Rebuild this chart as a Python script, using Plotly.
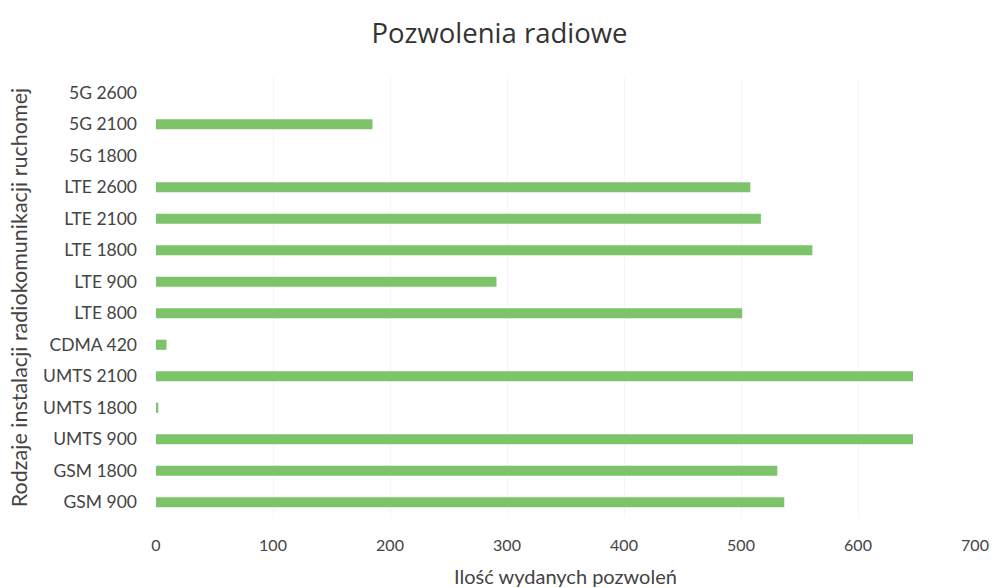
import plotly.graph_objects as go

categories = ["GSM 900", "GSM 1800", "UMTS 900", "UMTS 1800", "UMTS 2100",
              "CDMA 420", "LTE 800", "LTE 900", "LTE 1800", "LTE 2100",
              "LTE 2600", "5G 1800", "5G 2100", "5G 2600"]
permits = [537, 531, 647, 2, 647, 9, 501, 291, 561, 517, 508, 0, 185, 0]
x_ticks = [0, 100, 200, 300, 400, 500, 600, 700]

font_family = "Lato, Carlito, Open Sans, sans-serif"
text_color = "#444444"

fig = go.Figure(
    go.Bar(
        x=permits,
        y=categories,
        orientation="h",
        marker=dict(color="#7DC36A", line=dict(width=0)),
        hoverinfo="x+y",
    )
)

fig.update_layout(
    width=999,
    height=588,
    paper_bgcolor="white",
    plot_bgcolor="white",
    margin=dict(l=156, r=24, t=77, b=70),
    bargap=0.68,
    showlegend=False,
    title=dict(
        text="Pozwolenia radiowe",
        x=0.5,
        xanchor="center",
        y=0.944,
        yanchor="middle",
        font=dict(family="Open Sans, sans-serif", size=27.5, color="#333333"),
    ),
    font=dict(family=font_family, color=text_color),
)

fig.update_xaxes(
    range=[0, 700],
    tickvals=x_ticks,
    ticktext=[str(v) for v in x_ticks],
    automargin=False,
    showgrid=True,
    gridcolor="#F6F6F6",
    gridwidth=1,
    zeroline=False,
    showline=False,
    ticks="",
    tickfont=dict(size=16, color=text_color),
    ticklabelstandoff=16,
    title=dict(text="Ilość wydanych pozwoleń", font=dict(size=20, color=text_color), standoff=17),
)

fig.update_yaxes(
    range=[-0.5, len(categories) - 0.5],
    automargin=False,
    showgrid=False,
    zeroline=False,
    showline=False,
    ticks="",
    tickfont=dict(size=17.5, color=text_color),
    ticklabelstandoff=18,
    title=dict(text="Rodzaje instalacji radiokomunikacji ruchomej", font=dict(size=21.5, color=text_color), standoff=9),
)

fig.write_html("out.html")
